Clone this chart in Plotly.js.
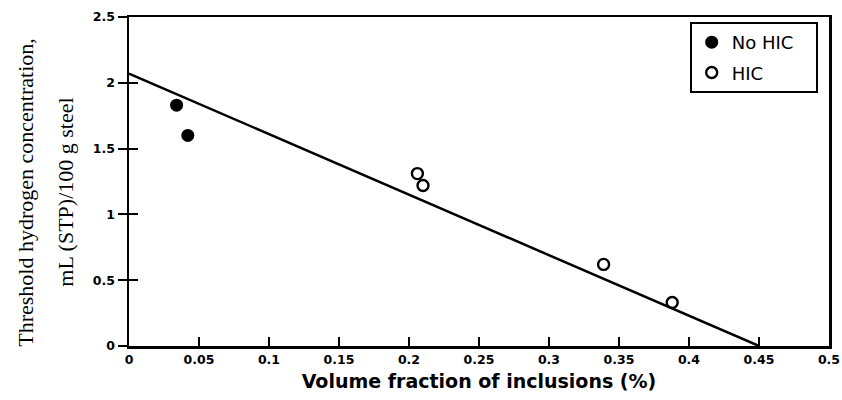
<!DOCTYPE html>
<html><head><meta charset="utf-8">
<script src="https://cdn.plot.ly/plotly-3.0.1.min.js"></script>
<style>body{margin:0;background:#fff}</style>
</head><body>
<div id="chart" style="width:842px;height:400px"></div>
<script>
const noHicX = [0.034, 0.042];
const noHicY = [1.83, 1.60];
const hicX = [0.206, 0.210, 0.339, 0.388];
const hicY = [1.31, 1.22, 0.62, 0.33];
const fitX = [0, 0.45];
const fitY = [2.07, 0];
const xTicks = [0, 0.05, 0.1, 0.15, 0.2, 0.25, 0.3, 0.35, 0.4, 0.45, 0.5];
const xTickText = ['0', '0.05', '0.1', '0.15', '0.2', '0.25', '0.3', '0.35', '0.4', '0.45', '0.5'];
const yTicks = [0, 0.5, 1, 1.5, 2, 2.5];
const yTickText = ['0', '0.5', '1', '1.5', '2', '2.5'];

const traces = [
  {x: fitX, y: fitY, mode: 'lines', line: {color: '#000', width: 2.5}, showlegend: false, hoverinfo: 'skip'},
  {x: noHicX, y: noHicY, mode: 'markers', name: 'No HIC&nbsp;&nbsp;&nbsp;', legendgroup: 'a',
   marker: {symbol: 'circle', size: 13, color: '#000'}},
  {x: hicX, y: hicY, mode: 'markers', name: 'HIC', legendgroup: 'b',
   marker: {symbol: 'circle-open', size: 11, color: '#000', line: {width: 2.4}}},
  {x: [0], y: [0], yaxis: 'y2', mode: 'markers', marker: {opacity: 0}, showlegend: false, hoverinfo: 'skip'}
];

const layout = {
  width: 842, height: 400,
  margin: {l: 129, r: 13, t: 17, b: 54},
  paper_bgcolor: '#fff', plot_bgcolor: '#fff',
  showlegend: true,
  legend: {x: 0.801, y: 0.985, xanchor: 'left', yanchor: 'top',
    bordercolor: '#000', borderwidth: 2, bgcolor: '#fff',
    font: {family: 'DejaVu Sans, sans-serif', size: 18, color: '#000'},
    itemwidth: 30, tracegroupgap: 4},
  xaxis: {range: [0, 0.5], tickvals: xTicks, ticktext: xTickText,
    showgrid: false, zeroline: false, showline: true, linecolor: '#000', linewidth: 2.5,
    mirror: true, ticks: 'inside', ticklen: 9, tickwidth: 2, tickcolor: '#000',
    tickfont: {family: 'DejaVu Sans, sans-serif', size: 12.5, color: '#000', weight: 'bold'},
    title: {text: 'Volume fraction of inclusions (%)', standoff: 9,
      font: {family: 'DejaVu Sans, sans-serif', size: 19, color: '#000', weight: 'bold'}}},
  yaxis: {range: [0, 2.5], tickvals: yTicks, ticktext: yTickText,
    showgrid: false, zeroline: false, showline: true, linecolor: '#000', linewidth: 2.5,
    mirror: true, ticks: 'outside', ticklen: 9, tickwidth: 2, tickcolor: '#000',
    tickfont: {family: 'DejaVu Sans, sans-serif', size: 12.5, color: '#000', weight: 'bold'}},
  yaxis2: {range: [0, 2.5], overlaying: 'y', side: 'left', tickvals: yTicks, showticklabels: false,
    showgrid: false, zeroline: false, showline: false, ticks: 'inside', ticklen: 9, tickwidth: 2, tickcolor: '#000'},
  annotations: [
    {text: 'Threshold hydrogen concentration,', xref: 'paper', yref: 'paper', x: -0.149, y: 0.468,
     xanchor: 'center', yanchor: 'middle', textangle: -90, showarrow: false,
     font: {family: 'Liberation Serif, Times New Roman, serif', size: 22, color: '#000'}},
    {text: 'mL (STP)/100 g steel', xref: 'paper', yref: 'paper', x: -0.092, y: 0.468,
     xanchor: 'center', yanchor: 'middle', textangle: -90, showarrow: false,
     font: {family: 'Liberation Serif, Times New Roman, serif', size: 22, color: '#000'}}
  ]
};
Plotly.newPlot('chart', traces, layout, {displayModeBar: false, staticPlot: true});
</script>
</body></html>
